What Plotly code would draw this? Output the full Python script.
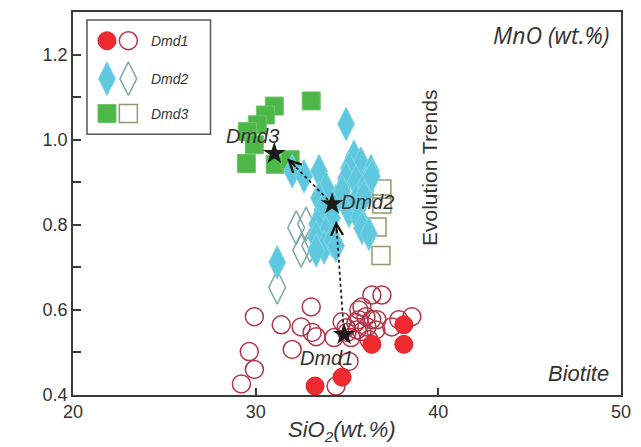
import math
import plotly.graph_objects as go

# ---- Biotite MnO vs SiO2 (wt.%) ----
# Dmd1
dmd1_core_sio2 = [38.11, 38.11, 36.36, 34.73, 33.25]
dmd1_core_mno = [0.565, 0.519, 0.519, 0.442, 0.421]
dmd1_rim_sio2 = [29.93, 31.40, 32.49, 33.04, 33.31, 32.00, 29.65, 29.93, 29.22, 34.29,
                 34.73, 35.11, 34.40, 36.36, 36.91, 35.65, 36.04, 36.36, 35.82, 36.20,
                 37.84, 38.55, 37.45, 35.49, 34.95, 35.22, 36.58, 35.82, 35.65, 36.64,
                 36.09, 35.55, 35.00, 33.09]
dmd1_rim_mno = [0.584, 0.565, 0.560, 0.607, 0.537, 0.507, 0.502, 0.460, 0.426, 0.535,
                0.572, 0.479, 0.421, 0.635, 0.635, 0.600, 0.584, 0.577, 0.549, 0.530,
                0.577, 0.584, 0.560, 0.570, 0.558, 0.535, 0.553, 0.607, 0.577, 0.577,
                0.560, 0.553, 0.547, 0.547]

# Dmd2
dmd2_core_sio2 = [34.95, 32.00, 32.65, 33.47, 33.85, 33.47, 34.40, 35.38, 35.76, 36.31,
                  35.11, 34.95, 35.49, 36.04, 36.36, 33.64, 34.18, 33.36, 33.85, 33.31,
                  33.75, 34.18, 35.11, 35.49, 35.65, 35.82, 36.20, 33.31, 34.40, 31.18,
                  34.73, 35.93]
dmd2_core_mno = [1.037, 0.926, 0.914, 0.926, 0.886, 0.863, 0.856, 0.960, 0.944, 0.926,
                 0.933, 0.909, 0.902, 0.895, 0.914, 0.833, 0.816, 0.802, 0.781, 0.770,
                 0.747, 0.763, 0.833, 0.856, 0.816, 0.793, 0.779, 0.740, 0.751, 0.712,
                 0.879, 0.867]
dmd2_rim_sio2 = [32.22, 32.76, 32.49, 32.98, 33.75, 33.85, 31.18]
dmd2_rim_mno = [0.793, 0.802, 0.740, 0.751, 0.793, 0.840, 0.653]

# Dmd3
dmd3_core_sio2 = [33.04, 31.02, 30.53, 30.09, 29.55, 29.93, 29.49, 31.07, 31.89]
dmd3_core_mno = [1.091, 1.079, 1.058, 1.035, 1.019, 0.988, 0.944, 0.942, 0.953]
dmd3_rim_sio2 = [36.91, 36.91, 36.64, 36.86]
dmd3_rim_mno = [0.884, 0.849, 0.795, 0.728]

# Group averages (stars) and trend arrow tips
star_names = ["Dmd1", "Dmd2", "Dmd3"]
star_sio2 = [34.84, 34.18, 31.02]
star_mno = [0.542, 0.849, 0.967]
trend_tip_sio2 = [34.40, 31.73]
trend_tip_mno = [0.809, 0.956]

x_ticks = [20, 30, 40, 50]
y_ticks = [0.4, 0.6, 0.8, 1.0, 1.2]

X_RANGE = [20, 50]
Y_RANGE = [0.4, 1.3]
WIDTH, HEIGHT = 641, 447
MARGIN = dict(l=73, r=18, t=10, b=52)

FONT = "Arial"
AXIS_COL = "#3a3a3a"
TXT = "#333333"

RED = "#EE2A2F"
RED_RIM = "#B23548"
CYAN = "#5DC8DE"
CYAN_RIM = "#7FA8A8"
GREEN = "#4DB748"
GREEN_RIM = "#8C9C6C"

fig = go.Figure()

# rims (open) first, cores (filled) on top
fig.add_trace(go.Scatter(x=dmd1_rim_sio2, y=dmd1_rim_mno, mode="markers",
                         marker=dict(symbol="circle-open", size=18, color=RED_RIM,
                                     line=dict(width=1.5, color=RED_RIM))))
fig.add_trace(go.Scatter(x=dmd1_core_sio2, y=dmd1_core_mno, mode="markers",
                         marker=dict(symbol="circle", size=18, color=RED,
                                     line=dict(width=1, color="#D8232B"))))
fig.add_trace(go.Scatter(x=dmd3_core_sio2, y=dmd3_core_mno, mode="markers",
                         marker=dict(symbol="square", size=18, color=GREEN,
                                     line=dict(width=1, color="#6DC468"))))
fig.add_trace(go.Scatter(x=dmd3_rim_sio2, y=dmd3_rim_mno, mode="markers",
                         marker=dict(symbol="square-open", size=18, color=GREEN_RIM,
                                     line=dict(width=1.5, color=GREEN_RIM))))
fig.add_trace(go.Scatter(x=dmd2_rim_sio2, y=dmd2_rim_mno, mode="markers",
                         marker=dict(symbol="diamond-tall-open", size=24, color=CYAN_RIM,
                                     line=dict(width=1.5, color=CYAN_RIM))))
fig.add_trace(go.Scatter(x=dmd2_core_sio2, y=dmd2_core_mno, mode="markers",
                         marker=dict(symbol="diamond-tall", size=24, color=CYAN,
                                     line=dict(width=1, color="#80D4E6"))))

# pixel scale of the data axes, used to give both arrow heads the same length
px_per_x = (WIDTH - MARGIN["l"] - MARGIN["r"]) / (X_RANGE[1] - X_RANGE[0])
px_per_y = (HEIGHT - MARGIN["t"] - MARGIN["b"]) / (Y_RANGE[1] - Y_RANGE[0])
HEAD_PX = 14

# evolution trend paths: dotted line from each average toward the next group
annotations = []
for i in range(2):
    fig.add_trace(go.Scatter(
        x=[star_sio2[i], trend_tip_sio2[i]], y=[star_mno[i], trend_tip_mno[i]],
        mode="lines", line=dict(color="#1a1a1a", width=1.8, dash="dot")))
    dx = trend_tip_sio2[i] - star_sio2[i]
    dy = trend_tip_mno[i] - star_mno[i]
    seg_px = math.hypot(dx * px_per_x, dy * px_per_y)
    frac = HEAD_PX / seg_px
    annotations.append(dict(x=trend_tip_sio2[i], y=trend_tip_mno[i],
                            ax=trend_tip_sio2[i] - frac * dx, ay=trend_tip_mno[i] - frac * dy,
                            xref="x", yref="y", axref="x", ayref="y", text="",
                            showarrow=True, arrowhead=5, arrowsize=1.3, arrowwidth=1.8,
                            arrowcolor="#111111"))

# group averages
fig.add_trace(go.Scatter(x=star_sio2, y=star_mno, mode="markers",
                         marker=dict(symbol="star", size=17, color="#1a1a1a",
                                     line=dict(width=0))))

# custom legend drawn on an overlay axis spanning the plot area
leg_rows = [0.925, 0.826, 0.735]
leg_fill_x = 0.062
leg_open_x = 0.101
leg_text_x = 0.138
leg_styles = [
    ("circle", RED, "#D8232B", "circle-open", RED_RIM, 18),
    ("diamond-tall", CYAN, "#80D4E6", "diamond-tall-open", CYAN_RIM, 24),
    ("square", GREEN, "#6DC468", "square-open", GREEN_RIM, 18),
]
for (fs, fc, fl, os_, oc, sz), yy in zip(leg_styles, leg_rows):
    fig.add_trace(go.Scatter(x=[leg_fill_x], y=[yy], xaxis="x2", yaxis="y2", mode="markers",
                             marker=dict(symbol=fs, size=sz, color=fc, line=dict(width=1, color=fl))))
    fig.add_trace(go.Scatter(x=[leg_open_x], y=[yy], xaxis="x2", yaxis="y2", mode="markers",
                             marker=dict(symbol=os_, size=sz, color=oc, line=dict(width=1.5, color=oc))))

for name, yy in zip(star_names, leg_rows):
    annotations.append(dict(x=leg_text_x, y=yy, xref="x2", yref="y2", text=f"<i>{name}</i>",
                            showarrow=False, xanchor="left", yanchor="middle",
                            font=dict(family=FONT, size=14, color=TXT)))

# labels next to the averages
annotations += [
    dict(x=33.9, y=0.488, text="<i>Dmd1</i>", showarrow=False, xanchor="center", yanchor="middle",
         font=dict(family=FONT, size=20, color=TXT)),
    dict(x=34.55, y=0.853, text="<i>Dmd2</i>", showarrow=False, xanchor="left", yanchor="middle",
         font=dict(family=FONT, size=20, color=TXT)),
    dict(x=29.8, y=1.008, text="<i>Dmd3</i>", showarrow=False, xanchor="center", yanchor="middle",
         font=dict(family=FONT, size=20, color=TXT)),
    dict(x=0.651, y=0.592, xref="paper", yref="paper", text="Evolution Trends", textangle=-90,
         showarrow=False, xanchor="center", yanchor="middle",
         font=dict(family=FONT, size=21, color=TXT)),
    dict(x=0.982, y=0.94, xref="paper", yref="paper", text="<i>MnO (wt.%)</i>",
         showarrow=False, xanchor="right", yanchor="middle",
         font=dict(family="Open Sans", size=23, color=TXT)),
    dict(x=0.982, y=0.057, xref="paper", yref="paper", text="<i>Biotite</i>",
         showarrow=False, xanchor="right", yanchor="middle",
         font=dict(family=FONT, size=22, color=TXT)),
    dict(x=0.49, y=-0.093, xref="paper", yref="paper", text="<i>SiO<sub>2</sub>(wt.%)</i>",
         showarrow=False, xanchor="center", yanchor="middle",
         font=dict(family=FONT, size=22, color=TXT)),
]

shapes = [dict(type="rect", xref="paper", yref="paper", x0=0.0255, x1=0.2509, y0=0.6805, y1=0.979,
               line=dict(color="#555555", width=1.5), fillcolor="white", layer="below")]

fig.update_layout(
    width=WIDTH, height=HEIGHT,
    margin=MARGIN,
    paper_bgcolor="white", plot_bgcolor="white",
    showlegend=False,
    annotations=annotations,
    shapes=shapes,
    xaxis=dict(range=X_RANGE, tickvals=x_ticks, ticks="inside", ticklen=7, tickwidth=1.5,
               tickcolor=AXIS_COL, showline=True, linecolor=AXIS_COL, linewidth=1.5, mirror=True,
               showgrid=False, zeroline=False,
               tickfont=dict(family=FONT, size=18, color=TXT)),
    yaxis=dict(range=Y_RANGE, tickvals=y_ticks, tickformat=".1f", ticks="inside", ticklen=8,
               tickwidth=1.5, tickcolor=AXIS_COL, showline=True, linecolor=AXIS_COL, linewidth=1.5,
               mirror=True, showgrid=False, zeroline=False,
               minor=dict(dtick=0.1, ticks="inside", ticklen=8, tickwidth=1.5, tickcolor=AXIS_COL),
               tickfont=dict(family=FONT, size=18, color=TXT)),
    xaxis2=dict(range=[0, 1], overlaying="x", visible=False, fixedrange=True),
    yaxis2=dict(range=[0, 1], overlaying="y", visible=False, fixedrange=True),
)

fig.write_html("out.html")
